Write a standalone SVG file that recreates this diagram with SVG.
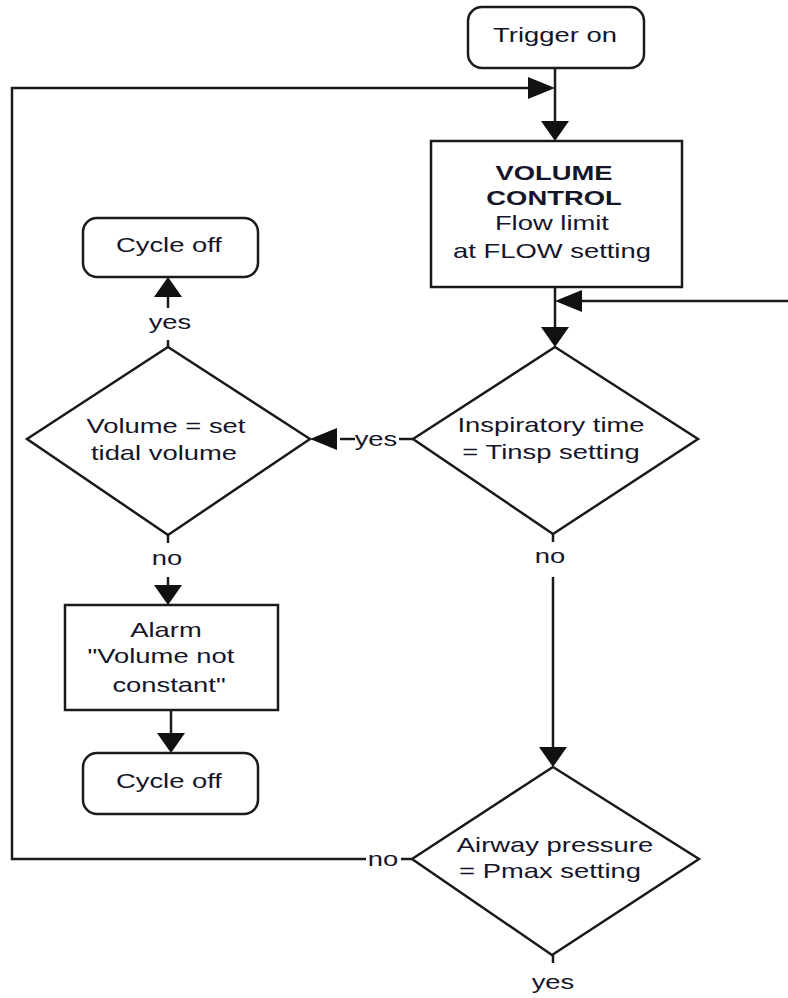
<svg xmlns="http://www.w3.org/2000/svg" width="788" height="998" viewBox="0 0 788 998">
  <style>
    .box { fill: #fff; stroke: #1a1a1a; stroke-width: 2.5; }
    .ln { fill: none; stroke: #1a1a1a; stroke-width: 2.5; }
    .ah { fill: #111; }
    text { font-family: "Liberation Sans", Arial, sans-serif; font-size: 20px; fill: #15152a; text-anchor: middle;
           transform-box: fill-box; transform-origin: center; transform: scaleX(1.37); }
    .b { font-weight: bold; }
  </style>
  <defs>
    <polygon id="ahDown" class="ah" points="-14,-20 14,-20 0,0"/>
    <polygon id="ahUp" class="ah" points="-14,20 14,20 0,0"/>
    <polygon id="ahRight" class="ah" points="-27,-11 -27,11 0,0"/>
    <polygon id="ahLeft" class="ah" points="27,-11 27,11 0,0"/>
  </defs>

  <rect width="788" height="998" fill="#fff"/>

  <!-- connectors -->
  <g id="connectors">
    <!-- trigger to volume control, with loop-back join -->
    <line class="ln" x1="555" y1="68" x2="555" y2="124"/>
    <use href="#ahDown" x="555" y="141"/>
    <polyline class="ln" points="366,859 12,859 12,88 530,88"/>
    <use href="#ahRight" x="555" y="88"/>
    <line class="ln" x1="401" y1="859" x2="412" y2="859"/>
    <!-- volume control to inspiratory time, with side entry -->
    <line class="ln" x1="555" y1="287" x2="555" y2="330"/>
    <use href="#ahDown" x="555" y="347"/>
    <line class="ln" x1="788" y1="301" x2="580" y2="301"/>
    <use href="#ahLeft" x="555" y="301"/>
    <!-- inspiratory time yes -> volume check -->
    <line class="ln" x1="413" y1="439" x2="399" y2="439"/>
    <line class="ln" x1="355" y1="439" x2="340" y2="439"/>
    <use href="#ahLeft" x="310" y="439"/>
    <!-- volume check yes -> cycle off -->
    <line class="ln" x1="168" y1="347" x2="168" y2="340"/>
    <line class="ln" x1="168" y1="308" x2="168" y2="293"/>
    <use href="#ahUp" x="168" y="277"/>
    <!-- volume check no -> alarm -->
    <line class="ln" x1="168" y1="535" x2="168" y2="543"/>
    <line class="ln" x1="168" y1="577" x2="168" y2="588"/>
    <use href="#ahDown" x="168" y="605"/>
    <!-- alarm -> cycle off -->
    <line class="ln" x1="171" y1="710" x2="171" y2="737"/>
    <use href="#ahDown" x="171" y="753"/>
    <!-- inspiratory time no -> airway pressure -->
    <line class="ln" x1="553" y1="534" x2="553" y2="542"/>
    <line class="ln" x1="553" y1="577" x2="553" y2="750"/>
    <use href="#ahDown" x="553" y="767"/>
    <!-- airway pressure yes -->
    <line class="ln" x1="553" y1="955" x2="553" y2="963"/>
    <!-- branch labels -->
    <text x="376" y="446">yes</text>
    <text x="170" y="329">yes</text>
    <text x="167" y="565">no</text>
    <text x="550" y="563">no</text>
    <text x="383" y="866">no</text>
    <text x="553" y="989">yes</text>
  </g>

  <g id="trigger-on">
    <rect class="box" x="468" y="7" width="176" height="61" rx="14"/>
    <text x="555" y="42">Trigger on</text>
  </g>

  <g id="volume-control">
    <rect class="box" x="431" y="141" width="251" height="146"/>
    <text class="b" x="554" y="180">VOLUME</text>
    <text class="b" x="554" y="205">CONTROL</text>
    <text x="552" y="230">Flow limit</text>
    <text x="552" y="258">at FLOW setting</text>
  </g>

  <g id="inspiratory-time">
    <polygon class="box" points="555,347 698,439 553,534 413,439"/>
    <text x="551" y="432">Inspiratory time</text>
    <text x="551" y="459">= Tinsp setting</text>
  </g>

  <g id="volume-check">
    <polygon class="box" points="168,347 310,439 168,535 27,439"/>
    <text x="166" y="433">Volume = set</text>
    <text x="164" y="460">tidal volume</text>
  </g>

  <g id="cycle-off-yes">
    <rect class="box" x="83" y="218" width="175" height="59" rx="14"/>
    <text x="169" y="252">Cycle off</text>
  </g>

  <g id="alarm">
    <rect class="box" x="65" y="605" width="213" height="105"/>
    <text x="166" y="637">Alarm</text>
    <text x="161" y="663">"Volume not</text>
    <text x="169" y="692">constant"</text>
  </g>

  <g id="cycle-off-no">
    <rect class="box" x="83" y="753" width="175" height="61" rx="14"/>
    <text x="169" y="788">Cycle off</text>
  </g>

  <g id="airway-pressure">
    <polygon class="box" points="553,767 699,859 552,955 412,859"/>
    <text x="555" y="852">Airway pressure</text>
    <text x="550" y="878">= Pmax setting</text>
  </g>
</svg>
